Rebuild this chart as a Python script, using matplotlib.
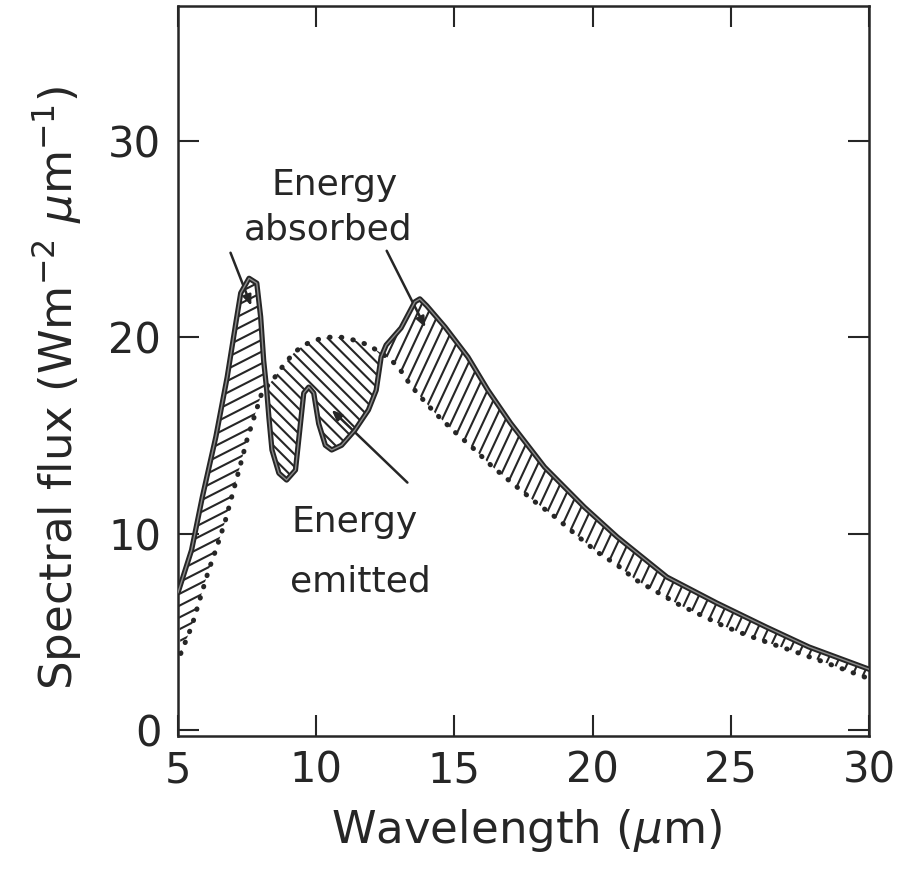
import numpy as np
import matplotlib
matplotlib.use("Agg")
import matplotlib.pyplot as plt
from matplotlib.path import Path
from matplotlib.patches import PathPatch
from matplotlib.collections import LineCollection

# Observed outgoing spectrum (solid curve)
wl_obs = [5.0, 5.49, 5.88, 6.37, 6.78, 7.09, 7.27, 7.57, 7.85, 7.99, 8.1, 8.21,
          8.29, 8.4, 8.65, 8.93, 9.25, 9.43, 9.55, 9.73, 9.91, 10.09, 10.33,
          10.56, 10.92, 11.4, 11.89, 12.17, 12.35, 12.53, 13.07, 13.57, 13.75,
          14.0, 14.66, 15.49, 16.21, 17.03, 18.26, 19.70, 20.89, 22.69, 24.49,
          26.29, 27.83, 30.0]
flux_obs = [7.0, 9.16, 11.86, 14.93, 17.97, 20.7, 22.25, 23.0, 22.75, 21.04,
            18.8, 17.3, 15.9, 14.26, 13.08, 12.73, 13.24, 15.6, 17.16, 17.46,
            17.16, 15.6, 14.5, 14.26, 14.5, 15.27, 16.3, 17.3, 19.0, 19.6,
            20.47, 21.8, 21.95, 21.6, 20.52, 18.99, 17.31, 15.63, 13.39, 11.35,
            9.83, 7.79, 6.47, 5.24, 4.23, 3.1]

# Emitted spectrum (dotted curve)
wl_emit = [5.1, 5.5, 5.8, 6.1, 6.4, 6.7, 6.93, 7.2, 7.5, 7.86, 8.04, 8.47, 8.83,
           9.19, 9.55, 9.98, 10.45, 10.9, 11.35, 11.9, 12.72, 13.07, 13.36,
           13.65, 14.3, 14.98, 15.67, 16.39, 17.18, 17.97, 18.69, 19.41, 20.17,
           20.89, 21.57, 22.33, 23.16, 23.91, 24.74, 25.57, 26.4, 27.3, 28.3,
           30.0]
flux_emit = [3.9, 5.3, 6.7, 8.1, 9.3, 10.6, 11.8, 13.2, 14.8, 16.4, 17.2, 17.9,
             18.6, 19.2, 19.6, 19.86, 20.0, 20.0, 19.86, 19.6, 18.84, 18.28,
             17.67, 17.16, 16.14, 15.22, 14.36, 13.39, 12.47, 11.56, 10.8, 9.93,
             9.06, 8.4, 7.64, 7.03, 6.36, 5.86, 5.3, 4.84, 4.43, 4.0, 3.5, 2.62]

x_ticks = [5, 10, 15, 20, 25, 30]
y_ticks = [0, 10, 20, 30]

INK = "#262626"
FONT = "DejaVu Sans"

W, H = 899, 876
fig = plt.figure(figsize=(W / 100, H / 100), dpi=100)
ax_l, ax_r, ax_t, ax_b = 178, 869, 6, 736
ax = fig.add_axes([ax_l / W, 1 - ax_b / H, (ax_r - ax_l) / W, (ax_b - ax_t) / H])
xlim = (5, 30)
ylim = (-0.3, 36.86)
ax.set_xlim(*xlim)
ax.set_ylim(*ylim)

# pixel scale of the data axes
sx = (ax_r - ax_l) / (xlim[1] - xlim[0])
sy = (ax_b - ax_t) / (ylim[1] - ylim[0])
ax_wpx, ax_hpx = ax_r - ax_l, ax_b - ax_t

# region between the two curves, used to clip the hatching
verts = list(zip(wl_obs, flux_obs)) + list(zip(wl_emit[::-1], flux_emit[::-1]))
verts.append(verts[0])
clip_patch = PathPatch(Path(verts), transform=ax.transData, fc="none", ec="none")
ax.add_patch(clip_patch)

# crossing points of the two curves split the hatched area into three bands
grid = np.linspace(max(wl_obs[0], wl_emit[0]), 30, 4000)
diff = np.interp(grid, wl_obs, flux_obs) - np.interp(grid, wl_emit, flux_emit)
cross = grid[np.where(np.diff(np.sign(diff)) != 0)[0]]
edges = [xlim[0]] + list(cross) + [xlim[1]]


def hatch_band(xa, xb, angle_deg, spacing):
    th = np.deg2rad(angle_deg)
    u = np.array([np.cos(th), np.sin(th)])
    n = np.array([-np.sin(th), np.cos(th)])
    Xa, Xb = (xa - xlim[0]) * sx, (xb - xlim[0]) * sx
    corners = np.array([[Xa, 0], [Xa, ax_hpx], [Xb, 0], [Xb, ax_hpx]])
    proj = corners @ n
    segs = []
    for k in range(int(np.floor(proj.min() / spacing)) - 1,
                   int(np.ceil(proj.max() / spacing)) + 2):
        c = k * spacing * n
        t0 = (Xa - c[0]) / u[0]
        t1 = (Xb - c[0]) / u[0]
        p0 = c + t0 * u
        p1 = c + t1 * u
        segs.append([(xlim[0] + p0[0] / sx, ylim[0] + p0[1] / sy),
                     (xlim[0] + p1[0] / sx, ylim[0] + p1[1] / sy)])
    lc = LineCollection(segs, colors=INK, linewidths=1.5, zorder=2)
    ax.add_collection(lc)
    lc.set_clip_path(clip_patch)


band_style = [(27, 10.5), (-45, 8.8), (65, 9.6)]
for i in range(len(edges) - 1):
    ang, sp = band_style[min(i, len(band_style) - 1)]
    hatch_band(edges[i], edges[i + 1], ang, sp)

# emitted spectrum: dotted curve
ax.plot(wl_emit, flux_emit, color=INK, lw=3.6, linestyle=(0, (0.1, 2.25)),
        dash_capstyle="round", zorder=3)
# observed spectrum: pen-drawn solid curve
ax.plot(wl_obs, flux_obs, color=INK, lw=3.8, solid_joinstyle="round",
        solid_capstyle="round", zorder=4)
ax.plot(wl_obs, flux_obs, color="#8a8a8a", lw=1.0, solid_joinstyle="round",
        zorder=5)

# frame and ticks
for sp in ax.spines.values():
    sp.set_linewidth(1.8)
    sp.set_color(INK)
ax.set_xticks(x_ticks)
ax.set_xticklabels([str(v) for v in x_ticks])
ax.set_yticks(y_ticks)
ax.set_yticklabels([str(v) for v in y_ticks])
ax.tick_params(axis="both", direction="in", length=15, width=1.5, color=INK,
               labelsize=30, labelcolor=INK, top=True, right=True)
ax.tick_params(axis="x", pad=10)
ax.tick_params(axis="y", pad=12)
for lab in ax.get_xticklabels() + ax.get_yticklabels():
    lab.set_family(FONT)

fig.text(526 / W, 1 - 830 / H, r"Wavelength ($\mu$m)", ha="center",
         va="center", fontsize=32.5, color=INK, family=FONT)
fig.text(57 / W, 1 - 388 / H, r"Spectral flux (Wm$^{-2}$ $\mu$m$^{-1}$)",
         ha="center", va="center", rotation=90, fontsize=32.5, color=INK,
         family=FONT)

arrow = dict(arrowstyle="-|>,head_length=0.6,head_width=0.25", color=INK,
             lw=1.8, shrinkA=0, shrinkB=0)

# labels with pointer lines
ax.text(10.68, 27.75, "Energy", ha="center", va="center", fontsize=26,
        color=INK, family=FONT)
ax.text(10.43, 25.5, "absorbed", ha="center", va="center", fontsize=26,
        color=INK, family=FONT)
ax.annotate("", xy=(7.65, 21.6), xytext=(6.9, 24.3), arrowprops=arrow)
ax.annotate("", xy=(13.95, 20.5), xytext=(12.55, 24.4), arrowprops=arrow)

ax.text(11.4, 10.6, "Energy", ha="center", va="center", fontsize=26,
        color=INK, family=FONT)
ax.text(11.6, 7.55, "emitted", ha="center", va="center", fontsize=26,
        color=INK, family=FONT)
ax.annotate("", xy=(10.56, 16.3), xytext=(13.3, 12.6), arrowprops=arrow)

fig.savefig("out.png", dpi=100, facecolor="white")
